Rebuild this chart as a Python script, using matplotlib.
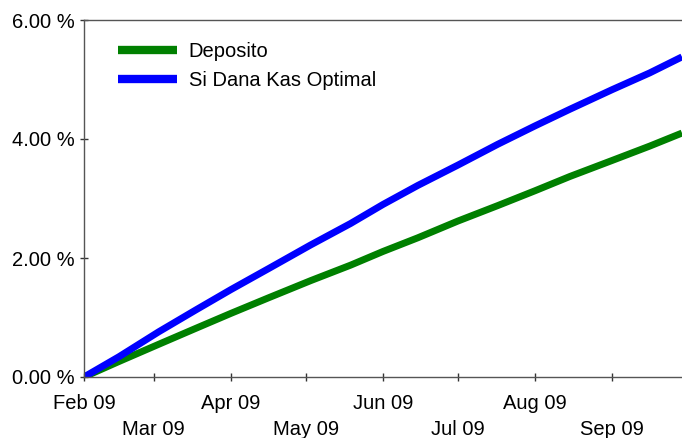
import matplotlib
matplotlib.use("Agg")
import matplotlib.pyplot as plt
import pandas as pd

plt.rcParams['font.family'] = ['Liberation Sans', 'DejaVu Sans']

dates = ["2009-02-01", "2009-02-15", "2009-03-03", "2009-03-18", "2009-04-01",
         "2009-04-16", "2009-05-03", "2009-05-19", "2009-06-01", "2009-06-15",
         "2009-07-01", "2009-07-17", "2009-08-01", "2009-08-15", "2009-09-01",
         "2009-09-16", "2009-09-29"]
deposito = [0.00, 0.26, 0.55, 0.82, 1.07, 1.33, 1.62, 1.88, 2.11, 2.34,
            2.62, 2.88, 3.13, 3.37, 3.64, 3.88, 4.10]
dana_kas = [0.00, 0.34, 0.76, 1.13, 1.47, 1.82, 2.22, 2.58, 2.90, 3.22,
            3.56, 3.91, 4.22, 4.50, 4.83, 5.11, 5.38]
series_names = ["Deposito", "Si Dana Kas Optimal"]
y_ticks = [0, 2, 4, 6]
y_tick_labels = ["0.00 %", "2.00 %", "4.00 %", "6.00 %"]
upper_months = ["2009-02-01", "2009-04-01", "2009-06-01", "2009-08-01"]
upper_labels = ["Feb 09", "Apr 09", "Jun 09", "Aug 09"]
lower_months = ["2009-03-01", "2009-05-01", "2009-07-01", "2009-09-01"]
lower_labels = ["Mar 09", "May 09", "Jul 09", "Sep 09"]

x = pd.to_datetime(dates)
FS = 14.5

fig = plt.figure(figsize=(6.82, 4.38), dpi=100)
ax = fig.add_axes([84/682, 1-377/438, 1-84/682, (377-20)/438])

ax.plot(x, deposito, color="#008000", lw=5, label=series_names[0], solid_capstyle='butt')
ax.plot(x, dana_kas, color="#0000FF", lw=5, label=series_names[1], solid_capstyle='butt')

ax.set_xlim(pd.Timestamp("2009-02-01"), pd.Timestamp("2009-09-29"))
ax.set_ylim(0, 6)
ax.set_yticks(y_ticks)
ax.set_yticklabels(y_tick_labels, fontsize=FS)

ax.set_xticks(pd.to_datetime(upper_months))
ax.set_xticklabels(upper_labels, fontsize=FS)
ax.set_xticks(pd.to_datetime(lower_months), minor=True)
ax.set_xticklabels(lower_labels, minor=True, fontsize=FS)

ax.tick_params(axis='both', which='both', direction='inout', length=6, width=1, color='#333333')
ax.tick_params(axis='x', which='major', pad=9)
ax.tick_params(axis='x', which='minor', pad=28)
ax.tick_params(axis='y', pad=4)

for s in ['left', 'top', 'bottom']:
    ax.spines[s].set_color('#555555')
    ax.spines[s].set_linewidth(1)
ax.spines['right'].set_visible(False)

leg = ax.legend(loc='upper left', bbox_to_anchor=(0.027, 0.99), frameon=False,
                fontsize=FS, handlelength=2.9, handletextpad=0.6, labelspacing=0.5)
for h in leg.get_lines():
    h.set_linewidth(6)

fig.savefig("out.png", dpi=100)
